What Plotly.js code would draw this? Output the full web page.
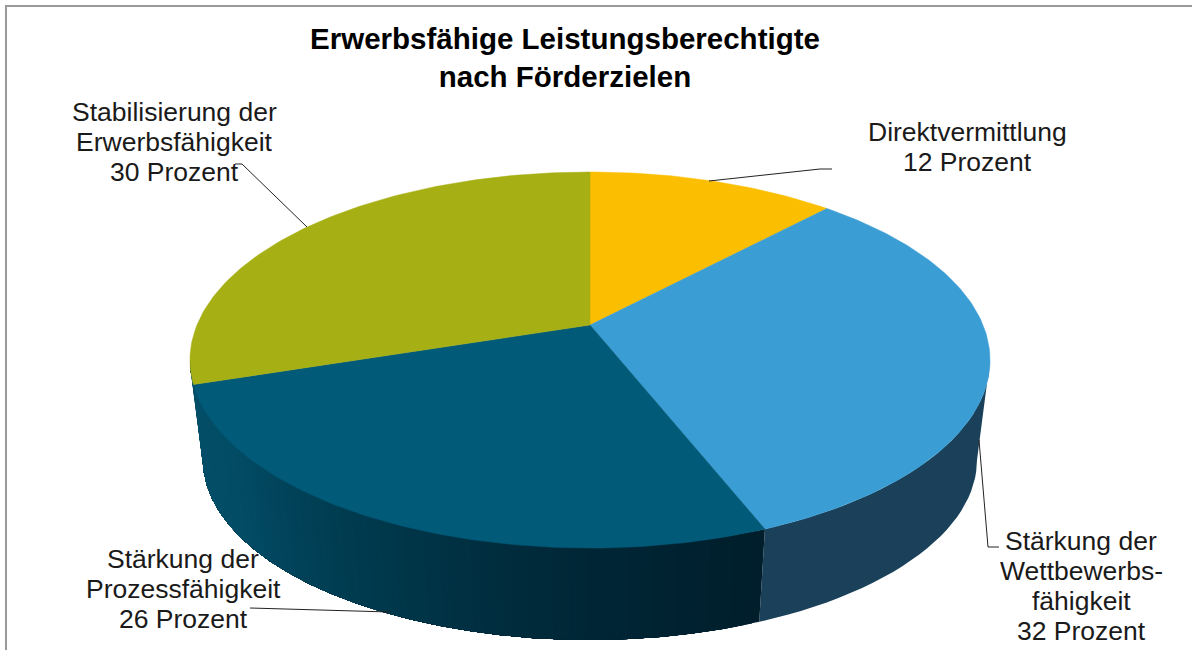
<!DOCTYPE html>
<html>
<head>
<meta charset="utf-8">
<script src="https://cdn.plot.ly/plotly-3.0.1.min.js"></script>
<style>html,body{margin:0;padding:0;background:#fff}#c{width:1192px;height:650px}</style>
</head>
<body>
<div id="c"></div>
<script>
// Data
const categories = ["Direktvermittlung", "Stärkung der<br>Wettbewerbs-<br>fähigkeit", "Stärkung der<br>Prozessfähigkeit", "Stabilisierung der<br>Erwerbsfähigkeit"];
const values = [12, 32, 26, 30];
const sliceColors = ["#FBBE00", "#3A9DD4", "#005A78", "#A6AF13"];
const labelX = [967, 1081, 183, 174];
const labelY = [146.5, 586, 589, 142];
const titleText = "<b>Erwerbsfähige Leistungsberechtigte<br>nach Förderzielen</b>";

// Perspective pie geometry
const topRim = {cx: 590, cy: 360, rx: 400, ry: 188};
const lowRim = {cx: 590, cy: 460, rx: 387, ry: 180};
const persp = 0.186;
function project(rim, deg) {
  const t = deg * Math.PI / 180, u = Math.sin(t), v = Math.cos(t), d = 1 + persp * v;
  return [rim.cx + rim.rx * Math.sqrt(1 - persp * persp) * u / d,
          rim.cy - rim.ry * (v + persp) / d];
}
function apex(rim) { return [rim.cx, rim.cy - rim.ry * persp]; }
function lerp(a, b, f) { return Math.round(a + (b - a) * f); }
function mix(stops, f) {
  const n = stops.length - 1, i = Math.min(n - 1, Math.floor(f * n)), g = f * n - i;
  const c = [0, 1, 2].map(k => lerp(stops[i][k], stops[i + 1][k], g));
  return `rgb(${c[0]},${c[1]},${c[2]})`;
}
function poly(pts, color, w) {
  return {type: "scatter", mode: "lines", x: pts.map(p => p[0]), y: pts.map(p => p[1]),
    fill: "toself", fillcolor: color, line: {color: color, width: w},
    hoverinfo: "skip", showlegend: false};
}

const total = values.reduce((a, b) => a + b, 0);
const bounds = [0];
values.forEach(v => bounds.push(bounds[bounds.length - 1] + v / total * 360));
const silhouette = Math.acos(-persp) * 180 / Math.PI;

const traces = [];
// Side wall of the blue slice
const blueSide = [];
for (let a = silhouette; a < bounds[2]; a += 2) blueSide.push(project(topRim, a));
blueSide.push(project(topRim, bounds[2]), project(lowRim, bounds[2]));
for (let a = bounds[2]; a > silhouette; a -= 2) blueSide.push(project(lowRim, a));
blueSide.push(project(lowRim, silhouette));
traces.push(poly(blueSide, "#1A4159", 0));
// Side wall of the dark slice with shading (overlapping strips drawn right to left)
const shade = [[0, 30, 43], [0, 40, 56], [0, 58, 78], [3, 76, 102], [4, 80, 106]];
const wallEnd = 360 - silhouette, wallStep = 1;
for (let a = bounds[2]; a < wallEnd; a += wallStep) {
  const b = wallEnd;
  const pts = [];
  for (let s = a; s < b; s += 4) pts.push(project(topRim, s));
  pts.push(project(topRim, b), project(lowRim, b));
  for (let s = b; s > a; s -= 4) pts.push(project(lowRim, s));
  pts.push(project(lowRim, a));
  traces.push(poly(pts, mix(shade, (a - bounds[2]) / (wallEnd - bounds[2])), 0));
}
// Top faces
values.forEach((v, i) => {
  const pts = [apex(topRim)];
  for (let a = bounds[i]; a < bounds[i + 1]; a += 1) pts.push(project(topRim, a));
  pts.push(project(topRim, bounds[i + 1]), apex(topRim));
  traces.push(poly(pts, sliceColors[i], 0.5));
});

const labelFont = {family: "Liberation Sans, Arial, sans-serif", size: 26.5, color: "#1a1a1a"};
const lineGap = 30;
const annotations = [];
categories.forEach((c, i) => {
  const lines = (c + "<br>" + values[i] + " Prozent").split("<br>");
  lines.forEach((t, k) => annotations.push({
    xref: "x", yref: "y", x: labelX[i], y: labelY[i] + (k - (lines.length - 1) / 2) * lineGap, text: t,
    showarrow: false, align: "center", xanchor: "center", yanchor: "middle", font: labelFont
  }));
});
const leader = d => ({type: "path", xref: "x", yref: "y", path: d, line: {color: "#222", width: 1}, layer: "above"});
const frame = d => ({type: "path", xref: "x", yref: "y", path: d, line: {color: "#9a9a9a", width: 2}, layer: "below"});

const layout = {
  width: 1192, height: 650, margin: {l: 0, r: 0, t: 0, b: 0, pad: 0},
  paper_bgcolor: "#fff", plot_bgcolor: "#fff", showlegend: false,
  title: {text: titleText, x: 565 / 1192, xanchor: "center", xref: "paper", y: 1 - 49 / 650, yref: "paper", yanchor: "middle",
    font: {family: "Liberation Sans, Arial, sans-serif", size: 29.5, color: "#000"}},
  xaxis: {range: [0, 1192], visible: false, fixedrange: true},
  yaxis: {range: [650, 0], visible: false, fixedrange: true},
  annotations: annotations,
  shapes: [
    frame("M 1192 6 L 6 6 L 6 650"),
    leader("M 709 181 L 820 169 L 832 169"),
    leader("M 235 164 L 242 164 L 307 227"),
    leader("M 979 440 L 988 547 L 999 547"),
    leader("M 250 608 L 390 612")
  ]
};
Plotly.newPlot("c", traces, layout, {displayModeBar: false, staticPlot: true});
</script>
</body>
</html>
